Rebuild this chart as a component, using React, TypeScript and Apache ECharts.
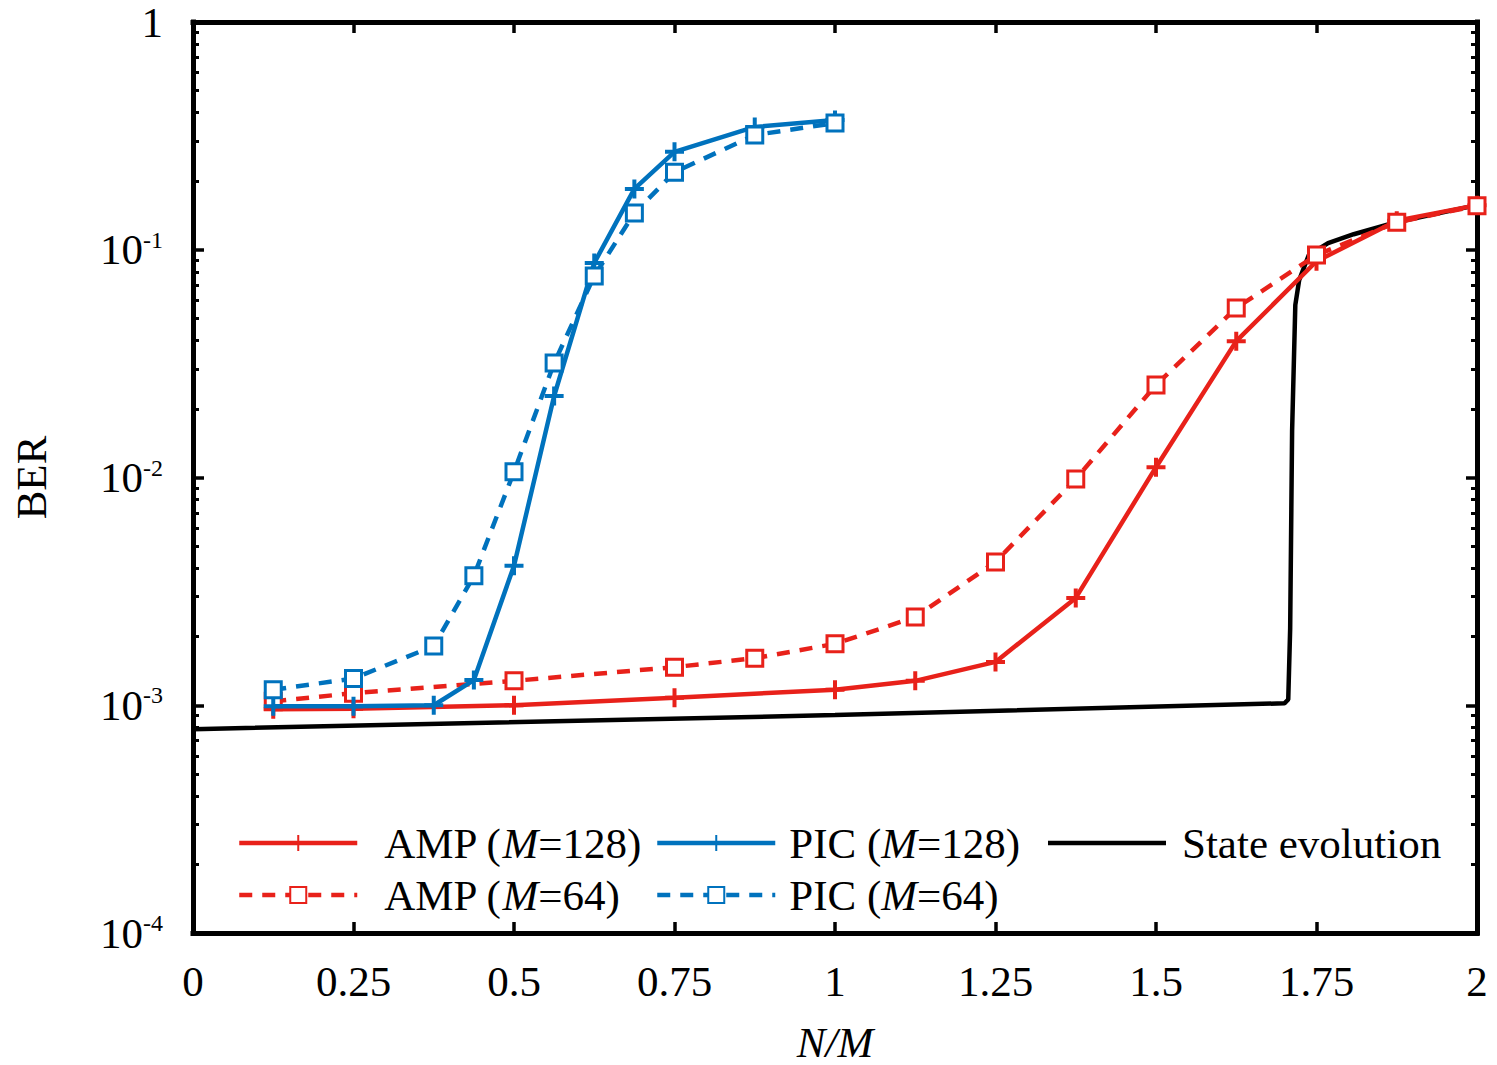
import React, { useEffect, useRef } from 'react';
import * as echarts from 'echarts';

const FONT = '"Liberation Serif", "Times New Roman", serif';
const RED = '#E8211A';
const BLUE = '#0072BD';
const BLACK = '#000000';

// AMP (M=128)
const xAMP128 = [0.125, 0.25, 0.5, 0.75, 1, 1.125, 1.25, 1.375, 1.5, 1.625, 1.75, 1.875, 2];
const berAMP128 = [9.6e-4, 9.65e-4, 1.0e-3, 1.08e-3, 1.17e-3, 1.28e-3, 1.55e-3, 2.96e-3, 1.11e-2, 3.97e-2, 8.9e-2, 1.34e-1, 1.57e-1];

// AMP (M=64)
const xAMP64 = [0.125, 0.25, 0.5, 0.75, 0.875, 1, 1.125, 1.25, 1.375, 1.5, 1.625, 1.75, 1.875, 2];
const berAMP64 = [1.04e-3, 1.13e-3, 1.28e-3, 1.47e-3, 1.61e-3, 1.86e-3, 2.44e-3, 4.26e-3, 9.85e-3, 2.55e-2, 5.55e-2, 9.48e-2, 1.32e-1, 1.56e-1];

// PIC (M=128)
const xPIC128 = [0.125, 0.25, 0.375, 0.4375, 0.5, 0.5625, 0.625, 0.6875, 0.75, 0.875, 1];
const berPIC128 = [9.9e-4, 9.9e-4, 1.0e-3, 1.29e-3, 4.1e-3, 2.28e-2, 8.75e-2, 1.85e-1, 2.69e-1, 3.46e-1, 3.71e-1];

// PIC (M=64)
const xPIC64 = [0.125, 0.25, 0.375, 0.4375, 0.5, 0.5625, 0.625, 0.6875, 0.75, 0.875, 1];
const berPIC64 = [1.17e-3, 1.31e-3, 1.82e-3, 3.7e-3, 1.06e-2, 3.18e-2, 7.67e-2, 1.45e-1, 2.19e-1, 3.19e-1, 3.6e-1];

// State evolution
const xSE = [0, 1, 1.7, 1.706, 1.709, 1.712, 1.717, 1.723, 1.738, 1.768, 1.808, 1.874, 2];
const berSE = [7.85e-4, 9.05e-4, 1.02e-3, 1.06e-3, 2.18e-3, 1.6e-2, 5.72e-2, 7.36e-2, 9.48e-2, 1.07e-1, 1.17e-1, 1.32e-1, 1.57e-1];

const seriesNames = ['AMP (M=128)', 'AMP (M=64)', 'PIC (M=128)', 'PIC (M=64)', 'State evolution'];
const legendLabels: Record<string, string> = {
  'AMP (M=128)': '{n|AMP (}{i|M}{n|=128)}',
  'AMP (M=64)': '{n|AMP (}{i|M}{n|=64)}',
  'PIC (M=128)': '{n|PIC (}{i|M}{n|=128)}',
  'PIC (M=64)': '{n|PIC (}{i|M}{n|=64)}',
  'State evolution': '{n|State evolution}',
};

const xMin = 0;
const xMax = 2;
const xInterval = 0.25;
const xTickValues = [0, 0.25, 0.5, 0.75, 1, 1.25, 1.5, 1.75, 2];
const yMin = 1e-4;
const yMax = 1;
const decadeExps = [-4, -3, -2, -1, 0];
const minorMultipliers = [2, 3, 4, 5, 6, 7, 8, 9];
const minorTickExps = decadeExps.slice(0, 4).flatMap((d) => minorMultipliers.map((k) => d + Math.log10(k)));

const PLUS = 'path://M10 0 L10 20 M0 10 L20 10';

const zip = (xs: number[], ys: number[]) => xs.map((x, i) => [x, ys[i]]);

export default function App() {
  const ref = useRef<HTMLDivElement>(null);
  useEffect(() => {
    document.body.style.margin = '0';
    if (!ref.current) return;
    const chart = echarts.init(ref.current, null, { renderer: 'svg' });

    const frameLine = () => ({ show: true, onZero: false, lineStyle: { color: BLACK, width: 5, cap: 'square' } });
    const tickAxisX = (position: string, len: number) => ({
      type: 'value',
      min: xMin,
      max: xMax,
      interval: xInterval,
      position,
      axisLine: { show: false, onZero: false },
      axisTick: { show: true, inside: true, length: len, customValues: xTickValues, lineStyle: { color: BLACK, width: 3.5 } },
      axisLabel: { show: false },
      splitLine: { show: false },
    });
    const tickAxisY = (position: string, len: number, values: number[], width: number) => ({
      type: 'value',
      min: -4,
      max: 0,
      interval: 1,
      position,
      axisLine: { show: false, onZero: false },
      axisTick: { show: true, inside: true, length: len, customValues: values, lineStyle: { color: BLACK, width } },
      axisLabel: { show: false },
      splitLine: { show: false },
    });
    const richText = {
      n: { fontFamily: FONT, fontSize: 43, lineHeight: 46, color: BLACK },
      i: { fontFamily: FONT, fontSize: 43, lineHeight: 46, color: BLACK, fontStyle: 'italic' },
    };
    const legendCommon = (pad: number) => ({
      orient: 'horizontal',
      padding: 0,
      itemWidth: 118,
      itemHeight: 20,
      selectedMode: false,
      lineStyle: { width: 4.5 },
      formatter: (name: string) => legendLabels[name] || name,
      textStyle: {
        fontFamily: FONT,
        fontSize: 43,
        lineHeight: 46,
        color: BLACK,
        padding: [0, 0, 0, pad],
        rich: richText,
      },
    });

    const option: any = {
      animation: false,
      backgroundColor: '#ffffff',
      grid: { left: 193, right: 20, top: 22, bottom: 132, show: false, containLabel: false, outerBoundsMode: 'none' },
      xAxis: [
        {
          type: 'value',
          min: xMin,
          max: xMax,
          interval: xInterval,
          position: 'bottom',
          axisLine: frameLine(),
          axisTick: { show: false },
          splitLine: { show: false },
          axisLabel: { margin: 27, fontFamily: FONT, fontSize: 43, lineHeight: 43, color: BLACK, showMinLabel: true, showMaxLabel: true },
          name: 'N/M',
          nameLocation: 'middle',
          nameGap: 88,
          nameTextStyle: { fontFamily: FONT, fontSize: 43, lineHeight: 43, fontStyle: 'italic', color: BLACK },
        },
        {
          type: 'value',
          min: xMin,
          max: xMax,
          interval: xInterval,
          position: 'top',
          axisLine: frameLine(),
          axisTick: { show: false },
          splitLine: { show: false },
          axisLabel: { show: false },
        },
        tickAxisX('bottom', 11),
        tickAxisX('top', 11),
      ],
      yAxis: [
        {
          type: 'log',
          logBase: 10,
          min: yMin,
          max: yMax,
          position: 'left',
          axisLine: frameLine(),
          axisTick: { show: false },
          splitLine: { show: false },
          minorTick: { show: false },
          axisLabel: {
            margin: 30,
            formatter: (v: number) => {
              const e = Math.round(Math.log10(v));
              return e === 0 ? '{b|1}' : `{b|10}{s|${e}}`;
            },
            rich: {
              b: { fontFamily: FONT, fontSize: 43, lineHeight: 44, color: BLACK },
              s: { fontFamily: FONT, fontSize: 24, lineHeight: 24, verticalAlign: 'top', color: BLACK },
            },
          },
          name: 'BER',
          nameLocation: 'middle',
          nameGap: 140,
          nameTextStyle: { fontFamily: FONT, fontSize: 43, lineHeight: 43, color: BLACK },
        },
        {
          type: 'log',
          logBase: 10,
          min: yMin,
          max: yMax,
          position: 'right',
          axisLine: frameLine(),
          axisTick: { show: false },
          splitLine: { show: false },
          axisLabel: { show: false },
        },
        tickAxisY('left', 11, decadeExps, 3.5),
        tickAxisY('left', 6, minorTickExps, 3),
        tickAxisY('right', 11, decadeExps, 3.5),
        tickAxisY('right', 6, minorTickExps, 3),
      ],
      legend: [
        { ...legendCommon(22), data: [seriesNames[0]], left: 237, top: 820 },
        { ...legendCommon(22), data: [seriesNames[1]], left: 237, top: 872 },
        { ...legendCommon(9), data: [seriesNames[2]], left: 655, top: 820 },
        { ...legendCommon(9), data: [seriesNames[3]], left: 655, top: 872 },
        { ...legendCommon(11), itemHeight: 4.5, data: [{ name: seriesNames[4], icon: 'rect' }], left: 1048, top: 820 },
      ],
      series: [
        {
          name: seriesNames[4],
          type: 'line',
          data: zip(xSE, berSE),
          showSymbol: false,
          symbol: 'none',
          color: BLACK,
          lineStyle: { color: BLACK, width: 4.5 },
          clip: false,
          z: 1,
        },
        {
          name: seriesNames[0],
          type: 'line',
          data: zip(xAMP128, berAMP128),
          symbol: PLUS,
          symbolSize: 19,
          color: RED,
          itemStyle: { color: RED, borderColor: RED, borderWidth: 4 },
          lineStyle: { color: RED, width: 4.5 },
          clip: false,
          z: 2,
        },
        {
          name: seriesNames[1],
          type: 'line',
          data: zip(xAMP64, berAMP64),
          symbol: 'rect',
          symbolSize: 16,
          color: RED,
          itemStyle: { color: '#ffffff', borderColor: RED, borderWidth: 3 },
          lineStyle: { color: RED, width: 4.5, type: [13, 10] },
          clip: false,
          z: 3,
        },
        {
          name: seriesNames[2],
          type: 'line',
          data: zip(xPIC128, berPIC128),
          symbol: PLUS,
          symbolSize: 19,
          color: BLUE,
          itemStyle: { color: BLUE, borderColor: BLUE, borderWidth: 4 },
          lineStyle: { color: BLUE, width: 4.5 },
          clip: false,
          z: 4,
        },
        {
          name: seriesNames[3],
          type: 'line',
          data: zip(xPIC64, berPIC64),
          symbol: 'rect',
          symbolSize: 16,
          color: BLUE,
          itemStyle: { color: '#ffffff', borderColor: BLUE, borderWidth: 3 },
          lineStyle: { color: BLUE, width: 4.5, type: [13, 10] },
          clip: false,
          z: 5,
        },
      ],
    };

    chart.setOption(option);
    return () => {
      chart.dispose();
    };
  }, []);

  return <div ref={ref} style={{ width: 1497, height: 1065 }} />;
}
